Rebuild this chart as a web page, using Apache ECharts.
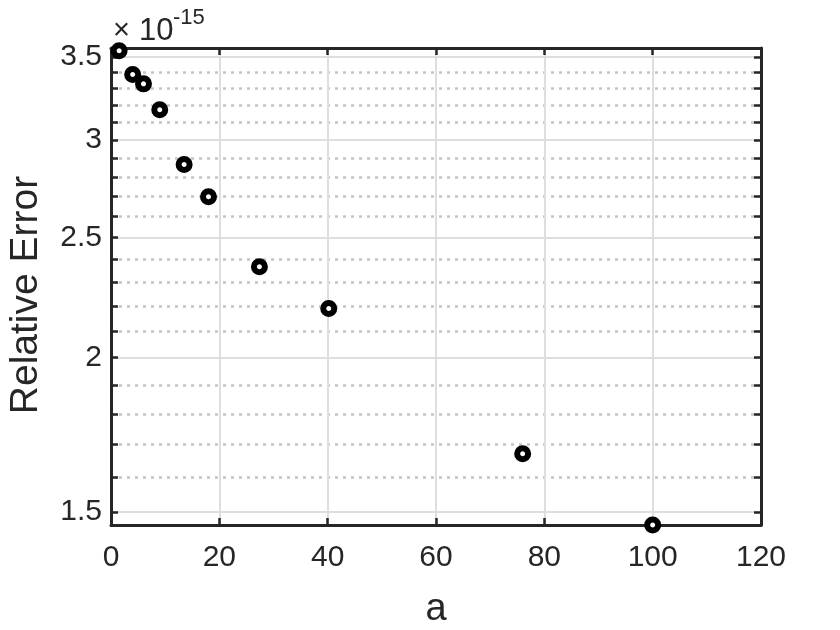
<!DOCTYPE html>
<html>
<head>
<meta charset="utf-8">
<script src="https://cdn.jsdelivr.net/npm/echarts@6/dist/echarts.min.js"></script>
<style>html,body{margin:0;padding:0;background:#fff}#c{width:840px;height:630px}</style>
</head>
<body>
<div id="c"></div>
<script>
// data (y in units of 1e-15)
const aValues = [1.5, 4, 6, 9, 13.5, 18, 27.4, 40.2, 76, 100];
const relErr = [3.541, 3.387, 3.329, 3.173, 2.865, 2.698, 2.368, 2.191, 1.672, 1.464];
const xTicks = [0, 20, 40, 60, 80, 100, 120];
const yMajorTicks = [1.5, 2, 2.5, 3, 3.5];
const yMinorTicks = [1.6, 1.7, 1.8, 1.9, 2.1, 2.2, 2.3, 2.4, 2.6, 2.7, 2.8, 2.9, 3.1, 3.2, 3.3, 3.4];
const yMin = 1.464, yMax = 3.559;
const xLabelText = 'a';
const yLabelText = 'Relative Error';

const FONT = '"Liberation Sans", Arial, Helvetica, sans-serif';
const DARK = '#262626';
const chart = echarts.init(document.getElementById('c'), null, {renderer: 'canvas'});
const tickStyle = {show: true, inside: true, length: 7, lineStyle: {color: DARK, width: 2.5}};
const axisLine = {show: true, onZero: false, lineStyle: {color: DARK, width: 3}};

chart.setOption({
  animation: false,
  backgroundColor: '#fff',
  grid: {left: 111, right: 79, top: 48, bottom: 105},
  xAxis: [{
    type: 'value', min: xTicks[0], max: xTicks[xTicks.length - 1], interval: xTicks[1] - xTicks[0], position: 'bottom',
    axisLine: axisLine, axisTick: tickStyle,
    axisLabel: {color: DARK, fontSize: 30, fontFamily: FONT, margin: 18},
    splitLine: {show: true, lineStyle: {color: '#dedede', width: 2}}
  }, {
    type: 'value', min: xTicks[0], max: xTicks[xTicks.length - 1], interval: xTicks[1] - xTicks[0], position: 'top',
    axisLine: axisLine, axisTick: tickStyle,
    axisLabel: {show: false}, splitLine: {show: false}
  }],
  yAxis: [{
    type: 'log', min: yMin, max: yMax, position: 'left',
    axisLine: axisLine,
    axisTick: Object.assign({customValues: yMajorTicks}, tickStyle),
    axisLabel: {customValues: yMajorTicks, color: DARK, fontSize: 30, fontFamily: FONT, margin: 9,
      formatter: v => String(+(+v).toFixed(1))},
    splitLine: {show: true, lineStyle: {color: '#dedede', width: 2}}
  }, {
    type: 'log', min: yMin, max: yMax, position: 'left',
    axisLine: {show: false},
    axisTick: Object.assign({customValues: yMinorTicks}, tickStyle),
    axisLabel: {show: false},
    splitLine: {show: true, lineStyle: {color: '#c4c4c4', width: 2.5, type: [3, 5], cap: 'butt'}}
  }, {
    type: 'log', min: yMin, max: yMax, position: 'right',
    axisLine: axisLine,
    axisTick: Object.assign({customValues: yMajorTicks.concat(yMinorTicks)}, tickStyle),
    axisLabel: {show: false}, splitLine: {show: false}
  }],
  graphic: [
    {type: 'text', x: 113, y: 31, style: {text: '×', font: '29px ' + FONT, fill: DARK, verticalAlign: 'middle', align: 'left'}},
    {type: 'text', x: 139, y: 31, style: {text: '10', font: '31px ' + FONT, fill: DARK, verticalAlign: 'middle', align: 'left'}},
    {type: 'text', x: 173, y: 18, style: {text: '-15', font: '22px ' + FONT, fill: DARK, verticalAlign: 'middle', align: 'left'}},
    {type: 'text', x: 26, y: 295, rotation: Math.PI / 2,
      style: {text: yLabelText, font: '39px ' + FONT, fill: DARK, verticalAlign: 'middle', align: 'center'}},
    {type: 'text', x: 436, y: 610,
      style: {text: xLabelText, font: '38px ' + FONT, fill: DARK, verticalAlign: 'middle', align: 'center'}}
  ],
  series: [{
    type: 'scatter', xAxisIndex: 0, yAxisIndex: 0,
    data: aValues.map((a, i) => [a, relErr[i]]),
    symbol: 'circle', symbolSize: 11, clip: false,
    itemStyle: {color: '#fff', borderColor: '#000', borderWidth: 6, opacity: 1},
    z: 10
  }]
});
</script>
</body>
</html>
